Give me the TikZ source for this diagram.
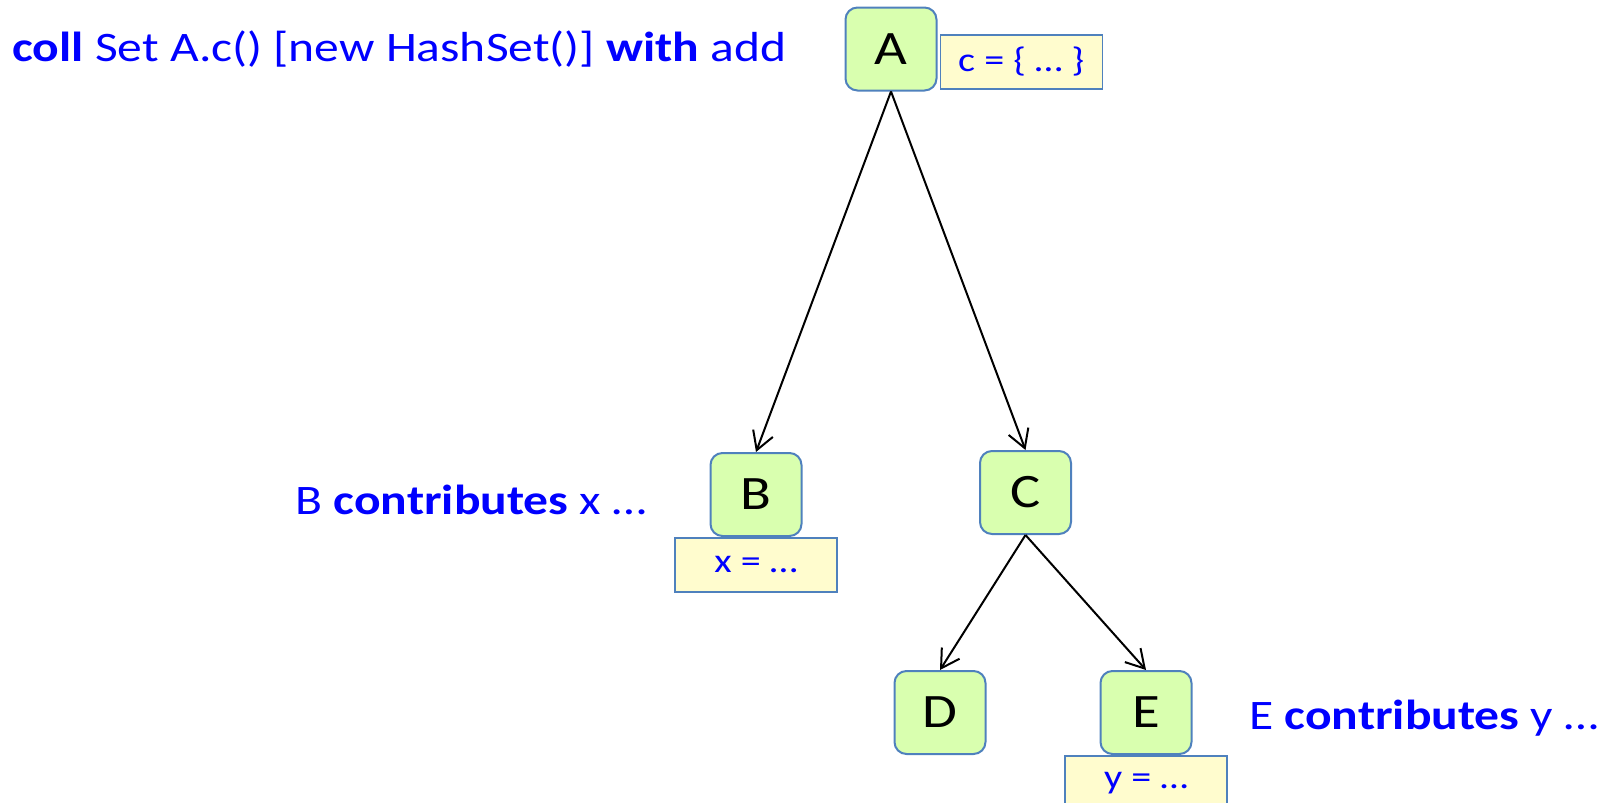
\documentclass[tikz,border=0pt]{standalone}
\usepackage{fontspec}
\setmainfont{Carlito}[FakeStretch=1.18]
\usetikzlibrary{positioning,arrows.meta}
\definecolor{boxgreen}{RGB}{217,255,175}
\definecolor{boxyellow}{RGB}{255,252,206}
\definecolor{boxblue}{RGB}{79,129,189}
\definecolor{textblue}{RGB}{0,0,255}

\begin{document}
\begin{tikzpicture}[x=0.5pt,y=0.5pt]
\tikzstyle{every node}+=[inner sep=0pt]
\tikzstyle{tree}=[draw=boxblue, fill=boxgreen, rounded corners=6pt, line width=1pt, minimum width=45.5pt, minimum height=41.5pt, font=\fontsize{24}{28}\selectfont]
\tikzstyle{slot}=[draw=boxblue, fill=boxyellow, line width=0.8pt, minimum width=81pt, minimum height=27pt, text=textblue, font=\fontsize{17}{20}\selectfont]
\tikzstyle{note}=[text=textblue, font=\fontsize{21}{25}\selectfont]
\tikzstyle{link}=[black, line width=1pt, -{Straight Barb[length=9pt,width=10.5pt]}]
\useasboundingbox (0,0) rectangle (1602,-803);
\node [tree] (A) at (891,-49) {A};
\node [tree] (B) at (756,-494.5) {B};
\node [tree] (C) at (1025.5,-492.5) {C};
\node [tree] (D) at (940,-712.5) {D};
\node [tree] (E) at (1146,-712.5) {E};
\node [slot, anchor=south west] (cA) at ([xshift=1pt,yshift=1pt]A.south east) {c = \{ … \}};
\node [slot, below=0pt of B] (xB) {x = …};
\node [slot, below=0pt of E] (yE) {y = …};
\node [note, anchor=west] (title) at (12,-49) {\textbf{coll} Set A.c() [new HashSet()] \textbf{with} add};
\node [note, anchor=east] (noteB) at (647,-500) {B \textbf{contributes} x …};
\node [note, anchor=west] (noteE) at (1249,-718) {E \textbf{contributes} y …};
\draw [link] (A.south) -- (B.north);
\draw [link] (A.south) -- (C.north);
\draw [link] (C.south) -- (D.north);
\draw [link] (C.south) -- (E.north);
\end{tikzpicture}
\end{document}
